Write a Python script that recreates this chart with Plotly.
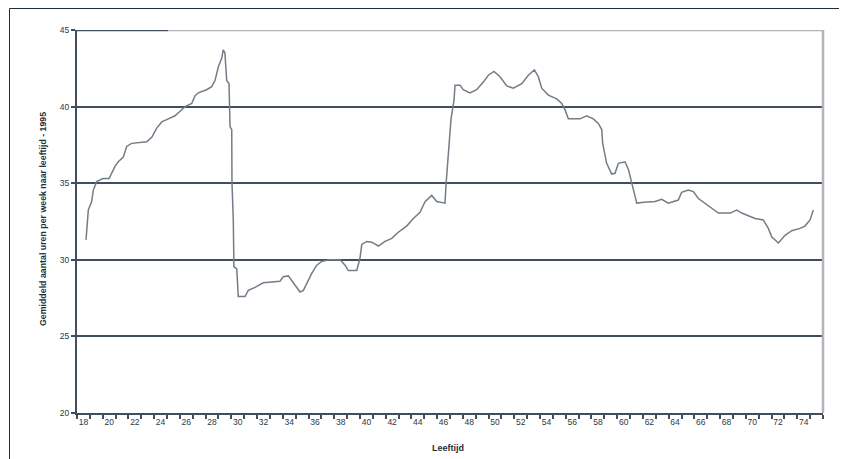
import plotly.graph_objects as go

# Data (age vs value)
ages = [18.20, 18.25, 18.38, 18.64, 18.77, 19.03, 19.52, 20.00, 20.20, 20.45,
        20.71, 21.10, 21.36, 21.75, 22.92, 23.31, 23.70, 24.09, 24.60, 25.12,
        25.51, 25.90, 26.42, 26.67, 26.93, 27.58, 27.97, 28.23, 28.49, 28.75,
        28.87, 29.00, 29.14, 29.32, 29.40, 29.53, 29.55, 29.65, 29.70, 29.92,
        30.04, 30.56, 30.82, 31.34, 31.98, 33.28, 33.54, 33.93, 34.32, 34.84,
        35.10, 35.48, 35.74, 36.14, 36.53, 37.17, 37.95, 38.34, 38.59, 39.25,
        39.50, 39.64, 40.03, 40.41, 40.93, 41.45, 41.97, 42.48, 43.13, 43.65,
        44.17, 44.56, 45.08, 45.47, 46.11, 46.19, 46.37, 46.58, 46.81, 46.89,
        47.28, 47.53, 48.05, 48.57, 49.09, 49.48, 49.92, 50.39, 50.91, 51.42,
        52.08, 52.59, 53.06, 53.37, 53.63, 54.14, 54.80, 55.19, 55.44, 55.70,
        56.09, 56.61, 57.13, 57.64, 58.03, 58.30, 58.37, 58.55, 58.68, 59.07,
        59.33, 59.59, 60.11, 60.37, 60.63, 60.75, 61.02, 61.60, 62.44, 62.96,
        63.47, 64.25, 64.51, 65.03, 65.42, 65.81, 66.46, 66.98, 67.37, 68.28,
        68.80, 69.18, 69.70, 70.22, 70.86, 71.25, 71.51, 72.03, 72.55, 73.07,
        73.71, 74.10, 74.49, 74.75]
values = [31.3, 32.1, 33.25, 33.8, 34.55, 35.1, 35.3, 35.3, 35.7, 36.1,
          36.4, 36.7, 37.4, 37.6, 37.7, 38.0, 38.6, 39.0, 39.2, 39.4,
          39.7, 40.0, 40.2, 40.7, 40.9, 41.1, 41.3, 41.7, 42.6, 43.15,
          43.7, 43.5, 41.7, 41.5, 38.7, 38.5, 35.0, 32.7, 29.55, 29.4,
          27.6, 27.6, 28.0, 28.2, 28.5, 28.6, 28.9, 28.95, 28.5, 27.9,
          28.0, 28.7, 29.1, 29.65, 29.9, 30.0, 30.0, 29.65, 29.3, 29.3,
          30.1, 31.0, 31.2, 31.15, 30.9, 31.2, 31.4, 31.8, 32.2, 32.7,
          33.1, 33.8, 34.2, 33.8, 33.7, 34.9, 36.95, 39.2, 40.4, 41.4,
          41.4, 41.1, 40.9, 41.1, 41.6, 42.05, 42.3, 41.95, 41.35, 41.2,
          41.5, 42.05, 42.4, 41.95, 41.2, 40.75, 40.5, 40.2, 39.8, 39.2,
          39.2, 39.2, 39.4, 39.2, 38.9, 38.5, 37.6, 36.95, 36.3, 35.6,
          35.65, 36.3, 36.4, 35.9, 35.0, 34.55, 33.7, 33.75, 33.8, 33.95,
          33.7, 33.9, 34.4, 34.55, 34.45, 34.0, 33.6, 33.25, 33.05, 33.05,
          33.25, 33.05, 32.85, 32.7, 32.6, 32.05, 31.5, 31.1, 31.6, 31.9,
          32.05, 32.2, 32.6, 33.25]

x_tickvals = list(range(18, 75, 2))
x_ticktext = [str(v) for v in x_tickvals]
y_tickvals = [20, 25, 30, 35, 40, 45]
y_ticktext = [str(v) for v in y_tickvals]

DARK = "#424e5b"
LIGHT = "#b1b5bb"
LINE = "#737c87"
FONT = "Liberation Sans"
TXT = "#2b3948"

# page body has an 8px margin, so the figure starts at (8, 8)
W, H = 839, 451
L, R, T, B = 69, 24, 22, 46
PW, PH = W - L - R, H - T - B


def px_x(x):  # page pixel -> paper x
    return (x - 8 - L) / PW


def px_y(y):  # page pixel -> paper y
    return 1 - (y - 8 - T) / PH


fig = go.Figure()
fig.add_trace(go.Scatter(x=ages, y=values, mode="lines",
                         line=dict(color=LINE, width=1.5), showlegend=False,
                         hoverinfo="x+y"))

fig.update_layout(
    width=W, height=H,
    margin=dict(l=L, r=R, t=T, b=B),
    paper_bgcolor="white", plot_bgcolor="white",
    font=dict(family=FONT, size=8, color=TXT),
    xaxis=dict(range=[17.5, 75.5], tickmode="array", tickvals=x_tickvals,
               ticktext=x_ticktext, showgrid=False, zeroline=False,
               showline=True, linecolor=DARK, linewidth=2,
               ticks="outside", ticklen=0, tickcolor=DARK,
               tickfont=dict(family=FONT, size=8.5, color=TXT),
               minor=dict(tickmode="linear", tick0=17.5, dtick=1,
                          ticks="outside", ticklen=4, tickcolor=DARK,
                          tickwidth=2, showgrid=False)),
    yaxis=dict(range=[20, 45], tickmode="array", tickvals=y_tickvals,
               ticktext=y_ticktext, showgrid=True, gridcolor=DARK,
               gridwidth=2, zeroline=False, showline=True, linecolor=DARK,
               linewidth=2, ticks="outside", ticklen=4, tickcolor=DARK,
               tickwidth=2,
               tickfont=dict(family=FONT, size=8.5, color=TXT)),
)

shapes = [
    # top line: dark part on the left, light plot-area border to the right
    dict(type="line", xref="x", yref="y", x0=17.5, x1=24.6, y0=45, y1=45,
         line=dict(color=DARK, width=2.5), layer="above"),
    dict(type="line", xref="x", yref="y", x0=24.6, x1=75.5, y0=45, y1=45,
         line=dict(color=LIGHT, width=2.5), layer="above"),
    dict(type="line", xref="paper", yref="paper", x0=1, x1=1, y0=0, y1=1,
         line=dict(color=LIGHT, width=2.5), layer="above"),
    # outer chart frame (top and left visible)
    dict(type="line", xref="paper", yref="paper", x0=px_x(9.5), x1=1.1,
         y0=px_y(8.5), y1=px_y(8.5), line=dict(color="#1d2f3e", width=1)),
    dict(type="line", xref="paper", yref="paper", x0=px_x(9.5), x1=px_x(9.5),
         y0=-0.2, y1=px_y(8.5), line=dict(color="#1d2f3e", width=1)),
]
fig.update_layout(shapes=shapes)

fig.add_annotation(text="<b>Gemiddeld aantal uren per week naar leeftijd - 1995</b>",
                   xref="paper", yref="paper", x=px_x(43), y=px_y(219),
                   textangle=-90, showarrow=False,
                   font=dict(family=FONT, size=8.8, color="#1d2f3e"),
                   xanchor="center", yanchor="middle")
fig.add_annotation(text="<b>Leeftijd</b>", xref="paper", yref="paper",
                   x=px_x(448), y=px_y(448), showarrow=False,
                   font=dict(family=FONT, size=9, color="#1d2f3e"),
                   xanchor="center", yanchor="middle")

fig.write_html("out.html")
